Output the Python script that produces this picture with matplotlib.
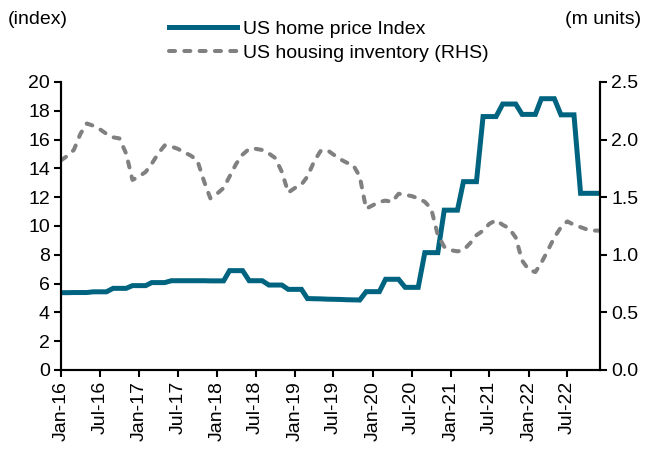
import matplotlib
matplotlib.use('Agg')
import matplotlib.pyplot as plt
import matplotlib.dates as mdates
from matplotlib.ticker import FormatStrFormatter
import pandas as pd

# monthly dates, Jan-16 to Dec-22
months = pd.date_range('2016-01-01', '2022-12-01', freq='MS')

# US home price index (left axis)
home_price = [5.37, 5.37, 5.38, 5.38, 5.38, 5.43, 5.43, 5.43,
              5.67, 5.67, 5.67, 5.86, 5.86, 5.86, 6.07, 6.07, 6.07,
              6.20, 6.20, 6.20, 6.20, 6.20, 6.20, 6.19, 6.19, 6.19,
              6.90, 6.90, 6.90, 6.20, 6.20, 6.20, 5.90, 5.90, 5.90,
              5.60, 5.60, 5.60, 4.96, 4.95, 4.94, 4.92, 4.91, 4.90,
              4.88, 4.87, 4.86, 5.44, 5.44, 5.44, 6.30, 6.30, 6.30,
              5.74, 5.74, 5.74, 8.15, 8.15, 8.15, 11.10, 11.10, 11.10,
              13.08, 13.08, 13.08, 17.60, 17.60, 17.60, 18.47, 18.47, 18.47,
              17.75, 17.75, 17.75, 18.84, 18.84, 18.84, 17.72, 17.72, 17.72,
              12.27, 12.27, 12.27, 12.27]

# US housing inventory in m units (right axis)
inventory = [1.82, 1.86, 1.91, 2.05, 2.14, 2.12, 2.09, 2.05, 2.02, 2.01,
             1.88, 1.65, 1.68, 1.72, 1.79, 1.88, 1.95, 1.94, 1.92, 1.89,
             1.86, 1.82, 1.64, 1.49, 1.53, 1.58, 1.68, 1.79, 1.87, 1.92,
             1.92, 1.91, 1.88, 1.84, 1.72, 1.54, 1.58, 1.61, 1.68, 1.81,
             1.90, 1.91, 1.87, 1.83, 1.80, 1.78, 1.68, 1.40, 1.43, 1.46,
             1.47, 1.46, 1.53, 1.52, 1.51, 1.49, 1.46, 1.40, 1.17, 1.07,
             1.04, 1.03, 1.04, 1.10, 1.17, 1.21, 1.27, 1.30, 1.26, 1.23,
             1.15, 0.95, 0.87, 0.85, 0.93, 1.04, 1.15, 1.24, 1.29, 1.26,
             1.24, 1.22, 1.21, 1.21]

left_ticks = [0, 2, 4, 6, 8, 10, 12, 14, 16, 18, 20]
right_ticks = [0.0, 0.5, 1.0, 1.5, 2.0, 2.5]

BLUE = '#006480'
GREY = '#808080'


def main():
  plt.rcParams['font.family'] = ['Liberation Sans', 'DejaVu Sans']
  plt.rcParams['font.size'] = 14

  fig = plt.figure(figsize=(6.45, 4.5), dpi=100)
  ax = fig.add_axes([61 / 645, 1 - 370 / 450, 539 / 645, 288 / 450])
  ax2 = ax.twinx()

  # the two series
  line1, = ax.plot(months, home_price, color=BLUE, linewidth=3.6,
                   solid_joinstyle='miter', label='US home price Index')
  line2, = ax2.plot(months, inventory, color=GREY, linewidth=2.9,
                    dashes=(1.5, 2.3), dash_capstyle='round',
                    label='US housing inventory (RHS)')

  # axes limits and ticks
  ax.set_xlim(months[0], months[-1])
  ax.set_ylim(0, 20)
  ax2.set_ylim(0, 2.5)
  ax.set_yticks(left_ticks)
  ax2.set_yticks(right_ticks)
  ax2.yaxis.set_major_formatter(FormatStrFormatter('%.1f'))

  ax.xaxis.set_major_locator(mdates.MonthLocator(bymonth=[1, 7]))
  ax.xaxis.set_major_formatter(mdates.DateFormatter('%b-%y'))
  plt.setp(ax.get_xticklabels(), rotation=90)

  for a in (ax, ax2):
    a.spines['top'].set_visible(False)
    for s in a.spines.values():
      s.set_linewidth(1.5)
    a.tick_params(direction='out', length=5, width=1.5, pad=3)

  # unit labels on top of each axis
  fig.text(8 / 645, 1 - 19 / 450, '(index)', ha='left', va='center')
  fig.text(641 / 645, 1 - 19 / 450, '(m units)', ha='right', va='center')

  # legend above the plot
  fig.legend(handles=[line1, line2], loc='upper left',
             bbox_to_anchor=(169 / 645, 1 - 20 / 450), frameon=False,
             borderpad=0, borderaxespad=0, handlelength=3.5,
             handletextpad=0.3, labelspacing=0.33)

  fig.savefig('out.png', dpi=100)


if __name__ == '__main__':
  main()
